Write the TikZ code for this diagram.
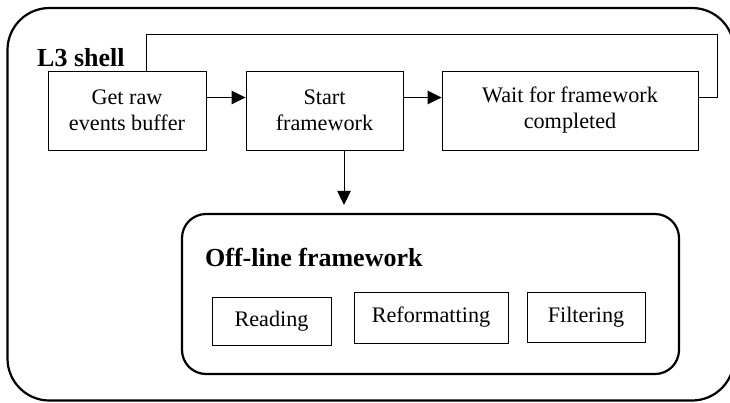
\documentclass[tikz,border=0pt]{standalone}
\usepackage{fontspec}
\setmainfont{Liberation Serif}
\usetikzlibrary{arrows.meta}
\begin{document}
\begin{tikzpicture}[x=1pt,y=-1pt,
  procbox/.style={draw,line width=0.9pt,align=center,font=\fontsize{22.2}{26}\selectfont,inner sep=0pt},
  subbox/.style={draw,line width=0.9pt,align=center,font=\fontsize{22.2}{26}\selectfont,inner sep=0pt},
  title/.style={font=\fontsize{26}{30}\selectfont\bfseries,inner sep=0pt,anchor=base west},
  conn/.style={line width=1pt,-{Triangle[length=14pt,width=13.5pt]}},
  frame/.style={draw,line width=2.2pt,rounded corners=#1}]
\useasboundingbox (0,0) rectangle (730,402);
\node[frame=42pt,minimum width=726.5pt,minimum height=392.5pt,inner sep=0pt] (outer) at (370.75,204.25) {};
\node[frame=24pt,minimum width=497pt,minimum height=160pt,inner sep=0pt] (inner) at (430.5,294) {};
\node[title] (l3) at (37,66) {L3 shell};
\node[title] (off) at (205,266) {Off-line framework};
\node[procbox,minimum width=158pt,minimum height=79pt] (get) at (127,110.5) {Get raw\\events buffer};
\node[procbox,minimum width=157pt,minimum height=79pt] (start) at (324.5,110.5) {Start\\framework};
\node[procbox,minimum width=256pt,minimum height=79pt] (wait) at (570,110.5) {Wait for framework\\completed};
\node[subbox,minimum width=119pt,minimum height=48pt] (read) at (271.5,321) {Reading};
\node[subbox,minimum width=154pt,minimum height=51pt] (refmt) at (431,317.5) {Reformatting};
\node[subbox,minimum width=118pt,minimum height=50pt] (filt) at (586,317) {Filtering};
\coordinate (a1) at ([yshift=13pt]get.east);
\coordinate (a2) at ([yshift=13pt]start.east);
\coordinate (w1) at ([yshift=13.5pt]wait.east);
\coordinate (g1) at ([xshift=19pt]get.north);
\coordinate (s1) at ([xshift=19.5pt]start.south);
\coordinate (fbR) at (717,34);
\draw[conn] (a1) -- (a1 -| start.west);
\draw[conn] (a2) -- (a2 -| wait.west);
\draw[line width=1pt] (w1) -| (fbR) -| (g1);
\draw[conn] (s1) -- ([yshift=8pt]s1 |- inner.north);
\end{tikzpicture}
\end{document}
